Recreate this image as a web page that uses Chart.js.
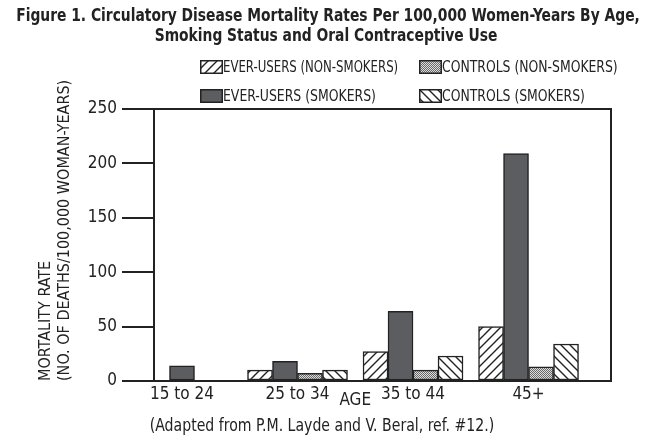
<!DOCTYPE html>
<html>
<head>
<meta charset="utf-8">
<script src="https://cdn.jsdelivr.net/npm/chart.js@4.4.1/dist/chart.umd.min.js"></script>
<style>
  html, body { margin: 0; padding: 0; background: #fff; }
  #wrap { position: relative; width: 650px; height: 439px; overflow: hidden; }
  #wrap canvas#chart { position: absolute; left: 0; top: 0; }
  .txt { position: absolute; white-space: nowrap; color: #222;
         font-family: 'DejaVu Sans Condensed', 'DejaVu Sans', sans-serif; }
  .title { left: -197px; width: 1050px; text-align: center; font-size: 18px; font-weight: bold;
           line-height: 20px; transform: scaleX(0.855); transform-origin: 525px 0; }
  .note { left: -3px; width: 650px; text-align: center; font-size: 18px; line-height: 20px;
          transform: scaleX(0.87); transform-origin: 325px 0; }
  .item { position: absolute; height: 14px; }
  .item canvas { position: absolute; left: 0; top: 0; }
  .item span { position: absolute; left: 23px; top: -2px; font-size: 16px; line-height: 18px;
               transform-origin: 0 0; }
</style>
</head>
<body>
<div id="wrap">
  <canvas id="chart" width="650" height="439"></canvas>
  <div class="txt title" style="top:5px">Figure 1. Circulatory Disease Mortality Rates Per 100,000 Women-Years By Age,</div>
  <div class="txt title" style="top:25px;left:-199px">Smoking Status and Oral Contraceptive Use</div>
  <div id="legend"></div>
  <div class="txt note" style="top:415px">(Adapted from P.M. Layde and V. Beral, ref. #12.)</div>
</div>
<script>
const FONT = "'DejaVu Sans Condensed', 'DejaVu Sans', sans-serif";
const INK = '#222';

// data
const ageGroups = ['15 to 24', '25 to 34', '35 to 44', '45+'];
const everUsersNonSmokers = [null, 10, 27, 50];
const everUsersSmokers = [14, 18, 64, 209];
const controlsNonSmokers = [null, 7, 10, 13];
const controlsSmokers = [null, 10, 23, 34];
const yTicks = [0, 50, 100, 150, 200, 250];

function makeHatch(forward) {
  const s = 9;
  const c = document.createElement('canvas');
  c.width = s; c.height = s;
  const g = c.getContext('2d');
  g.fillStyle = '#fff';
  g.fillRect(0, 0, s, s);
  g.strokeStyle = INK;
  g.lineWidth = 1.4;
  g.beginPath();
  if (forward) {
    g.moveTo(-1, s + 1); g.lineTo(s + 1, -1);
    g.moveTo(-1, 1); g.lineTo(1, -1);
    g.moveTo(s - 1, s + 1); g.lineTo(s + 1, s - 1);
  } else {
    g.moveTo(-1, -1); g.lineTo(s + 1, s + 1);
    g.moveTo(s - 1, -1); g.lineTo(s + 1, 1);
    g.moveTo(-1, s - 1); g.lineTo(1, s + 1);
  }
  g.stroke();
  return c;
}

function makeDots() {
  const c = document.createElement('canvas');
  c.width = 2; c.height = 2;
  const g = c.getContext('2d');
  g.fillStyle = '#dcdcdc';
  g.fillRect(0, 0, 2, 2);
  g.fillStyle = '#6a6a6a';
  g.fillRect(0, 0, 1, 1);
  g.fillRect(1, 1, 1, 1);
  return c;
}

const ctx = document.getElementById('chart').getContext('2d');
const fwdHatch = ctx.createPattern(makeHatch(true), 'repeat');
const backHatch = ctx.createPattern(makeHatch(false), 'repeat');
const dots = ctx.createPattern(makeDots(), 'repeat');
const darkGray = '#5b5d60';

const series = [
  { label: 'EVER-USERS (NON-SMOKERS)', data: everUsersNonSmokers, fill: fwdHatch },
  { label: 'EVER-USERS (SMOKERS)', data: everUsersSmokers, fill: darkGray },
  { label: 'CONTROLS (NON-SMOKERS)', data: controlsNonSmokers, fill: dots },
  { label: 'CONTROLS (SMOKERS)', data: controlsSmokers, fill: backHatch }
];

// legend: 2 x 2 grid, in the printed key's order
const legendSlots = [
  { s: 0, left: 200, top: 60, sx: 0.815 },
  { s: 2, left: 419, top: 60, sx: 0.862 },
  { s: 1, left: 200, top: 89, sx: 0.865 },
  { s: 3, left: 419, top: 89, sx: 0.862 }
];
const legendEl = document.getElementById('legend');
legendSlots.forEach(slot => {
  const it = document.createElement('div');
  it.className = 'item';
  it.style.left = slot.left + 'px';
  it.style.top = slot.top + 'px';
  const sw = document.createElement('canvas');
  sw.width = 23; sw.height = 14;
  const g = sw.getContext('2d');
  g.fillStyle = series[slot.s].fill;
  g.fillRect(0, 0, 23, 14);
  g.strokeStyle = INK;
  g.lineWidth = 1.5;
  g.strokeRect(0.75, 0.75, 21.5, 12.5);
  it.appendChild(sw);
  const tx = document.createElement('span');
  tx.className = 'txt';
  tx.style.transform = 'scaleX(' + slot.sx + ')';
  tx.textContent = series[slot.s].label;
  it.appendChild(tx);
  legendEl.appendChild(it);
});

const frameAndAxisLabel = {
  id: 'frameAndAxisLabel',
  afterDatasetsDraw(chart) {
    const { ctx, chartArea: a, scales } = chart;
    ctx.save();
    ctx.strokeStyle = INK;
    ctx.lineWidth = 2;
    ctx.strokeRect(a.left, a.top, a.right - a.left, a.bottom - a.top);
    ctx.fillStyle = INK;
    ctx.font = '17px ' + FONT;
    ctx.textAlign = 'center';
    ctx.textBaseline = 'middle';
    ctx.fillText('AGE', scales.x.getPixelForValue(1.5), a.bottom + 20);
    ctx.restore();
  }
};

new Chart(ctx, {
  type: 'bar',
  data: {
    labels: ageGroups.map((_, i) => i),
    datasets: series.map(s => ({
      label: s.label,
      data: s.data,
      backgroundColor: s.fill,
      borderColor: INK,
      borderWidth: 1.5,
      borderSkipped: false,
      barThickness: 25,
      skipNull: true
    }))
  },
  options: {
    responsive: false,
    animation: false,
    layout: { padding: { left: 0, right: 39, top: 109, bottom: 27 } },
    plugins: {
      legend: { display: false },
      tooltip: { enabled: false }
    },
    scales: {
      x: {
        type: 'linear',
        offset: false,
        bounds: 'data',
        min: -0.2424,
        max: 3.714,
        afterBuildTicks: s => { s.ticks = ageGroups.map((_, i) => ({ value: i })); },
        grid: { display: false, drawTicks: false, offset: false },
        border: { color: INK, width: 2 },
        ticks: {
          autoSkip: false,
          maxRotation: 0,
          padding: 3,
          color: INK,
          font: { family: FONT, size: 17 },
          callback: v => ageGroups[Math.round(v)] ?? ''
        },
        afterFit: s => { s.height = 31; }
      },
      y: {
        min: 0,
        max: 250,
        afterBuildTicks: s => { s.ticks = yTicks.map(v => ({ value: v })); },
        grid: { drawOnChartArea: false, drawTicks: true, tickLength: 32, color: INK, lineWidth: 2 },
        border: { color: INK, width: 2 },
        ticks: { color: INK, padding: 5, font: { family: FONT, size: 17 } },
        title: {
          display: true,
          align: 'start',
          text: ['MORTALITY RATE', '(NO. OF DEATHS/100,000 WOMAN-YEARS)'],
          color: INK,
          font: { family: FONT, size: 16, lineHeight: 1.2 },
          padding: { top: 36, bottom: 0 }
        },
        afterFit: s => { s.width = 154; }
      }
    }
  },
  plugins: [frameAndAxisLabel]
});
</script>
</body>
</html>
